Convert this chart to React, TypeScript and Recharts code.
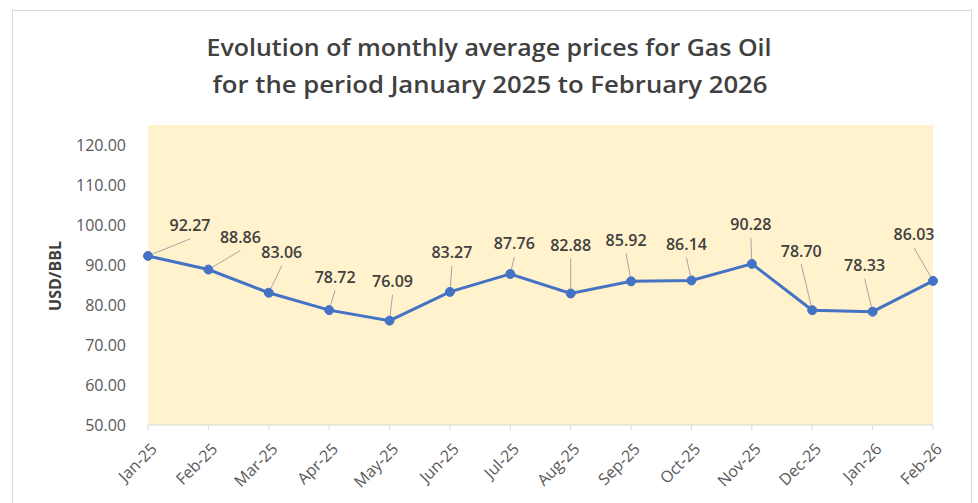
import React from "react";
import { LineChart, Line, XAxis, YAxis, CartesianGrid } from "recharts";

const months = [
  "Jan-25", "Feb-25", "Mar-25", "Apr-25", "May-25", "Jun-25", "Jul-25",
  "Aug-25", "Sep-25", "Oct-25", "Nov-25", "Dec-25", "Jan-26", "Feb-26",
];

const prices = [
  92.27, 88.86, 83.06, 78.72, 76.09, 83.27, 87.76,
  82.88, 85.92, 86.14, 90.28, 78.7, 78.33, 86.03,
];

const yTicks = [50, 60, 70, 80, 90, 100, 110, 120];

// where each data label sits relative to its point (dx, dy), Excel-style
const labelOffsets: [number, number][] = [
  [42, -30], [32, -32], [13, -40], [6, -33], [3, -39], [2, -39], [4, -30],
  [0, -48], [-5, -41], [-5, -36], [-1, -39], [-11, -59], [-8, -46], [-19, -46],
];

const data = months.map((month, i) => ({ month, price: prices[i] }));

const FONT = "'Open Sans', 'Noto Sans', sans-serif";
const TEXT_GRAY = "#595959";

const PriceLabel = (props: any) => {
  const { x, y, index, value } = props;
  const [dx, dy] = labelOffsets[index] || [0, -20];
  const lx = x + dx;
  const ly = y + dy;
  // leader line from under the label to the marker edge
  const sx = lx;
  const sy = ly + 13;
  const len = Math.hypot(x - sx, y - sy);
  const cut = 5;
  const ex = x + ((sx - x) / len) * cut;
  const ey = y + ((sy - y) / len) * cut;
  return (
    <g>
      {len > 8 && (
        <line x1={sx} y1={sy} x2={ex} y2={ey} stroke="#A6A6A6" strokeWidth={1} />
      )}
      <text
        x={lx}
        y={ly}
        dy={5.5}
        textAnchor="middle"
        fontFamily={FONT}
        fontSize={16}
        fontWeight={600}
        fill="#404040"
      >
        {Number(value).toFixed(2)}
      </text>
    </g>
  );
};

const MonthTick = (props: any) => {
  const { x, y, payload } = props;
  return (
    <g transform={`translate(${x + 10},${y + 18})`}>
      <text
        x={0}
        y={0}
        textAnchor="end"
        transform="rotate(-45)"
        fontFamily={FONT}
        fontSize={16}
        fill={TEXT_GRAY}
      >
        {payload.value}
      </text>
    </g>
  );
};

export default function App() {
  return (
    <div
      style={{
        position: "absolute",
        left: 0,
        top: 0,
        width: 978,
        height: 503,
        background: "#fff",
        overflow: "hidden",
      }}
    >
      <div
        style={{
          position: "absolute",
          left: 12,
          top: 10,
          width: 960,
          height: 500,
          border: "1px solid #D9D9D9",
          boxSizing: "border-box",
        }}
      />
      <svg
        width={978}
        height={120}
        style={{ position: "absolute", left: 0, top: 0 }}
      >
        <text
          x={489}
          y={56}
          textAnchor="middle"
          fontFamily={FONT}
          fontWeight={600}
          fontSize={23}
          fill="#404040"
          textLength={565}
          lengthAdjust="spacingAndGlyphs"
        >
          Evolution of monthly average prices for Gas Oil
        </text>
        <text
          x={490}
          y={93}
          textAnchor="middle"
          fontFamily={FONT}
          fontWeight={600}
          fontSize={23}
          fill="#404040"
          textLength={555}
          lengthAdjust="spacingAndGlyphs"
        >
          for the period January 2025 to February 2026
        </text>
      </svg>
      <div style={{ position: "absolute", left: 0, top: 0 }}>
        <LineChart
          width={978}
          height={503}
          data={data}
          margin={{ top: 125, right: 45, left: 68, bottom: 18 }}
        >
          <CartesianGrid
            horizontal={false}
            vertical={false}
            fill="#FFF2CC"
            stroke="none"
          />
          <XAxis
            dataKey="month"
            interval={0}
            height={60}
            axisLine={{ stroke: "#D9D9D9" }}
            tickLine={{ stroke: "#D9D9D9" }}
            tickSize={5}
            tick={<MonthTick />}
          />
          <YAxis
            width={80}
            domain={[50, 125]}
            ticks={yTicks}
            axisLine={false}
            tickLine={false}
            tickSize={20}
            tickMargin={2}
            tickFormatter={(v: number) => v.toFixed(2)}
            tick={{ fill: TEXT_GRAY, fontSize: 16, fontFamily: FONT }}
          />
          <Line
            type="linear"
            dataKey="price"
            stroke="#4472C4"
            strokeWidth={3}
            dot={{ r: 4.5, fill: "#4472C4", stroke: "#4472C4", strokeWidth: 1 }}
            activeDot={false}
            label={(p: any) => <PriceLabel {...p} />}
            isAnimationActive={false}
          />
        </LineChart>
      </div>
      <svg
        width={100}
        height={503}
        style={{ position: "absolute", left: 0, top: 0, pointerEvents: "none" }}
      >
        <text
          x={61}
          y={276}
          textAnchor="middle"
          transform="rotate(-90 61 276)"
          fontFamily={FONT}
          fontWeight={700}
          fontSize={16}
          fill="#404040"
        >
          USD/BBL
        </text>
      </svg>
    </div>
  );
}
